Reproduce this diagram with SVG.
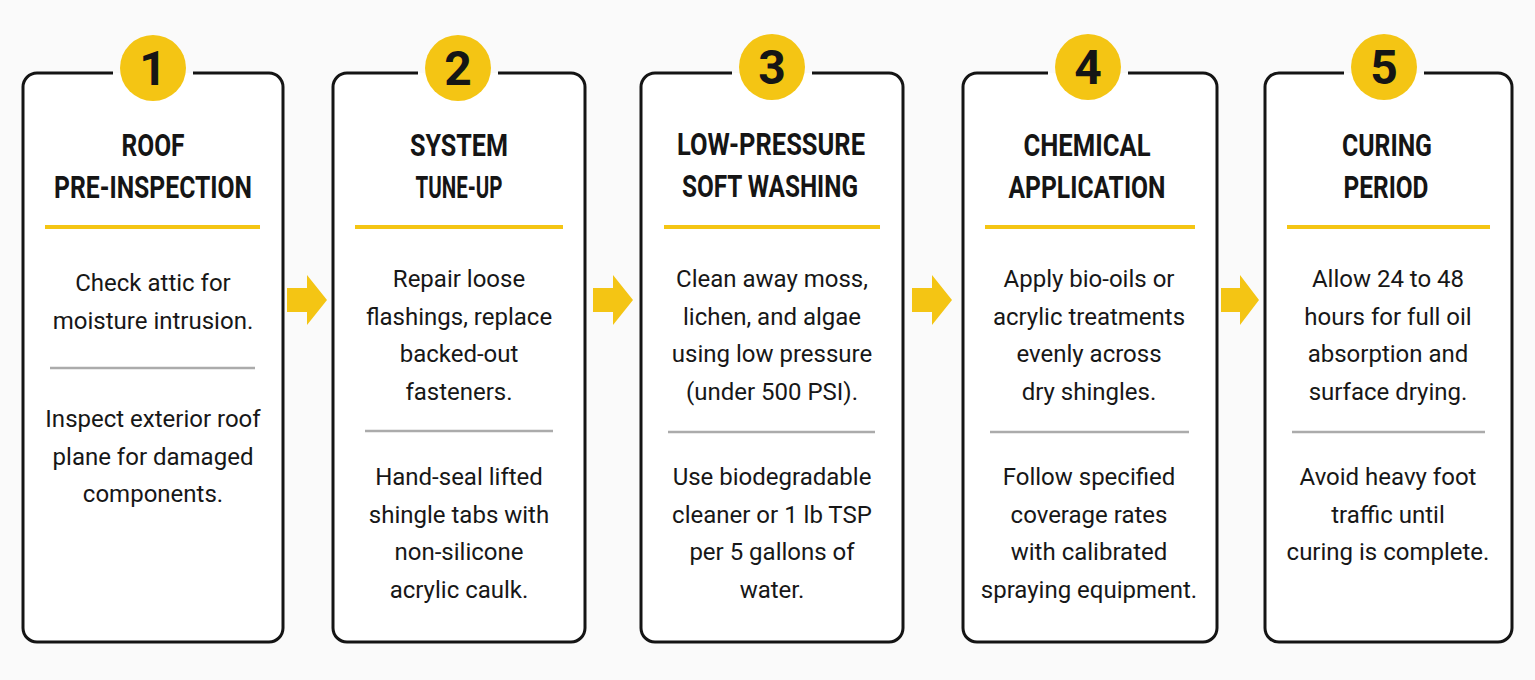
<svg xmlns="http://www.w3.org/2000/svg" width="1535" height="680" viewBox="0 0 1535 680">
  <style>
    .card { fill: #ffffff; stroke: #141414; stroke-width: 3; }
    .badge { fill: #F4C514; }
    .num { font-family: Roboto, "Liberation Sans", sans-serif; font-weight: 700; font-size: 48px; fill: #151515; text-anchor: middle; }
    .title { font-family: Roboto, "Liberation Sans", sans-serif; font-weight: 700; font-size: 32px; fill: #151515; text-anchor: middle; }
    .accent { stroke: #F4C514; stroke-width: 4; }
    .divider { stroke: #ababab; stroke-width: 2.5; }
    .body { font-family: Roboto, "Liberation Sans", sans-serif; font-size: 24px; fill: #171717; text-anchor: middle; }
    .arrow { fill: #F4C514; }
  </style>
  <rect width="1535" height="680" fill="#fafafa"/>

  <g id="connectors">
    <polygon class="arrow" points="287,288 307,288 307,275 327,300 307,325 307,312 287,312"/>
    <polygon class="arrow" points="593,288 613,288 613,275 633,300 613,325 613,312 593,312"/>
    <polygon class="arrow" points="912,288 932,288 932,275 952,300 932,325 932,312 912,312"/>
    <polygon class="arrow" points="1221,288 1240,288 1240,275 1259,300 1240,325 1240,312 1221,312"/>
  </g>

  <g id="step1">
    <path class="card" d="M193,73 H269 A14,14 0 0 1 283,87 V628 A14,14 0 0 1 269,642 H37 A14,14 0 0 1 23,628 V87 A14,14 0 0 1 37,73 H113"/>
    <circle class="badge" cx="153" cy="68" r="33"/>
    <text class="num" x="153" y="85">1</text>
    <text class="title" x="153" y="156" textLength="63" lengthAdjust="spacingAndGlyphs">ROOF</text>
    <text class="title" x="153" y="198" textLength="198" lengthAdjust="spacingAndGlyphs">PRE-INSPECTION</text>
    <line class="accent" x1="45" y1="227" x2="260" y2="227"/>
    <text class="body" x="153" y="291">Check attic for</text>
    <text class="body" x="153" y="329">moisture intrusion.</text>
    <line class="divider" x1="50" y1="368" x2="255" y2="368"/>
    <text class="body" x="153" y="427">Inspect exterior roof</text>
    <text class="body" x="153" y="465">plane for damaged</text>
    <text class="body" x="153" y="502">components.</text>
  </g>

  <g id="step2">
    <path class="card" d="M498,73 H571 A14,14 0 0 1 585,87 V628 A14,14 0 0 1 571,642 H347 A14,14 0 0 1 333,628 V87 A14,14 0 0 1 347,73 H418"/>
    <circle class="badge" cx="458" cy="68" r="33"/>
    <text class="num" x="458" y="85">2</text>
    <text class="title" x="459" y="156" textLength="98" lengthAdjust="spacingAndGlyphs">SYSTEM</text>
    <text class="title" x="459" y="198" textLength="87" lengthAdjust="spacingAndGlyphs">TUNE-UP</text>
    <line class="accent" x1="355" y1="227" x2="563" y2="227"/>
    <text class="body" x="459" y="287">Repair loose</text>
    <text class="body" x="459" y="325">flashings, replace</text>
    <text class="body" x="459" y="362">backed-out</text>
    <text class="body" x="459" y="400">fasteners.</text>
    <line class="divider" x1="365" y1="431" x2="553" y2="431"/>
    <text class="body" x="459" y="485">Hand-seal lifted</text>
    <text class="body" x="459" y="523">shingle tabs with</text>
    <text class="body" x="459" y="560">non-silicone</text>
    <text class="body" x="459" y="598">acrylic caulk.</text>
  </g>

  <g id="step3">
    <path class="card" d="M812,73 H889 A14,14 0 0 1 903,87 V628 A14,14 0 0 1 889,642 H655 A14,14 0 0 1 641,628 V87 A14,14 0 0 1 655,73 H732"/>
    <circle class="badge" cx="772" cy="67" r="33"/>
    <text class="num" x="772" y="84">3</text>
    <text class="title" x="771" y="155" textLength="188" lengthAdjust="spacingAndGlyphs">LOW-PRESSURE</text>
    <text class="title" x="770" y="197" textLength="176" lengthAdjust="spacingAndGlyphs">SOFT WASHING</text>
    <line class="accent" x1="664" y1="227" x2="880" y2="227"/>
    <text class="body" x="772" y="287">Clean away moss,</text>
    <text class="body" x="772" y="325">lichen, and algae</text>
    <text class="body" x="772" y="362">using low pressure</text>
    <text class="body" x="772" y="400">(under 500 PSI).</text>
    <line class="divider" x1="668" y1="432" x2="875" y2="432"/>
    <text class="body" x="772" y="485">Use biodegradable</text>
    <text class="body" x="772" y="523">cleaner or 1 lb TSP</text>
    <text class="body" x="772" y="560">per 5 gallons of</text>
    <text class="body" x="772" y="598">water.</text>
  </g>

  <g id="step4">
    <path class="card" d="M1128,73 H1203 A14,14 0 0 1 1217,87 V628 A14,14 0 0 1 1203,642 H977 A14,14 0 0 1 963,628 V87 A14,14 0 0 1 977,73 H1048"/>
    <circle class="badge" cx="1088" cy="67" r="33"/>
    <text class="num" x="1088" y="84">4</text>
    <text class="title" x="1087" y="156" textLength="127" lengthAdjust="spacingAndGlyphs">CHEMICAL</text>
    <text class="title" x="1087" y="198" textLength="157" lengthAdjust="spacingAndGlyphs">APPLICATION</text>
    <line class="accent" x1="985" y1="227" x2="1195" y2="227"/>
    <text class="body" x="1089" y="287">Apply bio-oils or</text>
    <text class="body" x="1089" y="325">acrylic treatments</text>
    <text class="body" x="1089" y="362">evenly across</text>
    <text class="body" x="1089" y="400">dry shingles.</text>
    <line class="divider" x1="990" y1="432" x2="1189" y2="432"/>
    <text class="body" x="1089" y="485">Follow specified</text>
    <text class="body" x="1089" y="523">coverage rates</text>
    <text class="body" x="1089" y="560">with calibrated</text>
    <text class="body" x="1089" y="598">spraying equipment.</text>
  </g>

  <g id="step5">
    <path class="card" d="M1424,73 H1498 A14,14 0 0 1 1512,87 V628 A14,14 0 0 1 1498,642 H1279 A14,14 0 0 1 1265,628 V87 A14,14 0 0 1 1279,73 H1344"/>
    <circle class="badge" cx="1384" cy="67" r="33"/>
    <text class="num" x="1384" y="84">5</text>
    <text class="title" x="1387" y="156" textLength="90" lengthAdjust="spacingAndGlyphs">CURING</text>
    <text class="title" x="1386" y="198" textLength="85" lengthAdjust="spacingAndGlyphs">PERIOD</text>
    <line class="accent" x1="1287" y1="227" x2="1490" y2="227"/>
    <text class="body" x="1388" y="287">Allow 24 to 48</text>
    <text class="body" x="1388" y="325">hours for full oil</text>
    <text class="body" x="1388" y="362">absorption and</text>
    <text class="body" x="1388" y="400">surface drying.</text>
    <line class="divider" x1="1292" y1="432" x2="1485" y2="432"/>
    <text class="body" x="1388" y="485">Avoid heavy foot</text>
    <text class="body" x="1388" y="523">traffic until</text>
    <text class="body" x="1388" y="560">curing is complete.</text>
  </g>
</svg>
